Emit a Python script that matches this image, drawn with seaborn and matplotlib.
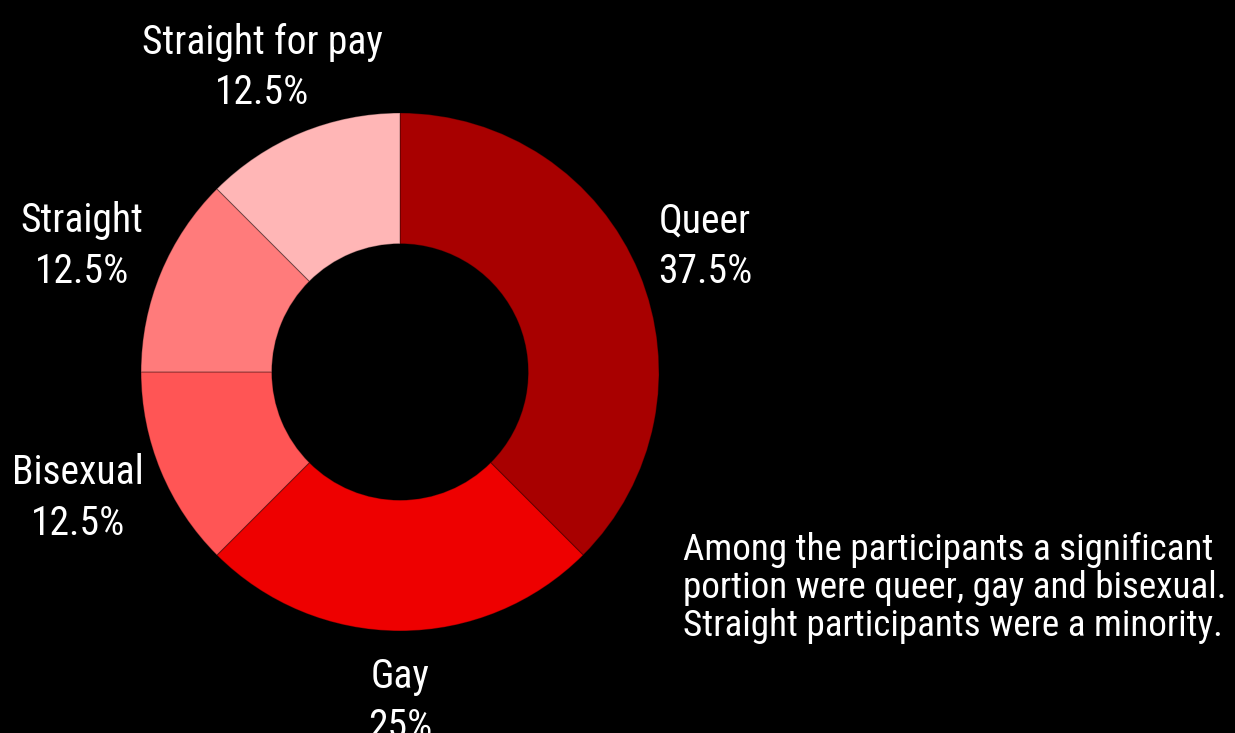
import numpy as np
import seaborn as sns
from matplotlib import pyplot as plt
from matplotlib import font_manager

# data
groups = ['Queer', 'Gay', 'Bisexual', 'Straight', 'Straight for pay']
shares = [37.5, 25, 12.5, 12.5, 12.5]
colors = ['#a80000', '#ee0000', '#ff5555', '#ff7b7b', '#ffb6b6']
note = ('Among the participants a significant\n'
        'portion were queer, gay and bisexual.\n'
        'Straight participants were a minority.')

sns.set_theme(style='dark')
installed = {f.name for f in font_manager.fontManager.ttflist}
font = 'Roboto Condensed' if 'Roboto Condensed' in installed else 'Roboto'
plt.rcParams['font.family'] = [font, 'DejaVu Sans']

fig = plt.figure(figsize=(12.35, 7.33), dpi=100, facecolor='black')
ax = fig.add_axes([0.1142, 0.1392, 0.4194, 0.7067])
ax.set_facecolor('black')

wedges, _ = ax.pie(
    shares,
    colors=colors,
    startangle=90,
    counterclock=False,
    radius=1,
    wedgeprops=dict(width=0.505, edgecolor=(0, 0, 0, 0.3), linewidth=0.8),
)
ax.set_xlim(-1, 1)
ax.set_ylim(-1, 1)
ax.set_aspect('equal')
ax.axis('off')

# labels outside the ring; the side of the text box facing the slice
# sits on a circle just outside the ring
texts, angles = [], []
for w, name, v in zip(wedges, groups, shares):
    ang = np.deg2rad((w.theta1 + w.theta2) / 2)
    t = ax.text(0, 0, f'{name}\n{v:g}%', ha='center', va='center',
                color='white', fontsize=28.5, linespacing=1.37)
    texts.append(t)
    angles.append(ang)

fig.canvas.draw()
renderer = fig.canvas.get_renderer()
for t, ang in zip(texts, angles):
    bb = t.get_window_extent(renderer)
    c, s = np.cos(ang), np.sin(ang)
    px, py = ax.transData.transform((1.1 * c, 1.1 * s))
    cx = px + bb.width / 2 * c * np.sqrt(abs(c))
    cy = py + bb.height / 2 * s
    t.set_position(ax.transData.inverted().transform((cx, cy)))

fig.text(683 / 1235, 1 - 588 / 733, note, ha='left', va='center',
         color='white', fontsize=26.7, linespacing=1.07)

fig.savefig('out.png', dpi=100, facecolor='black')
